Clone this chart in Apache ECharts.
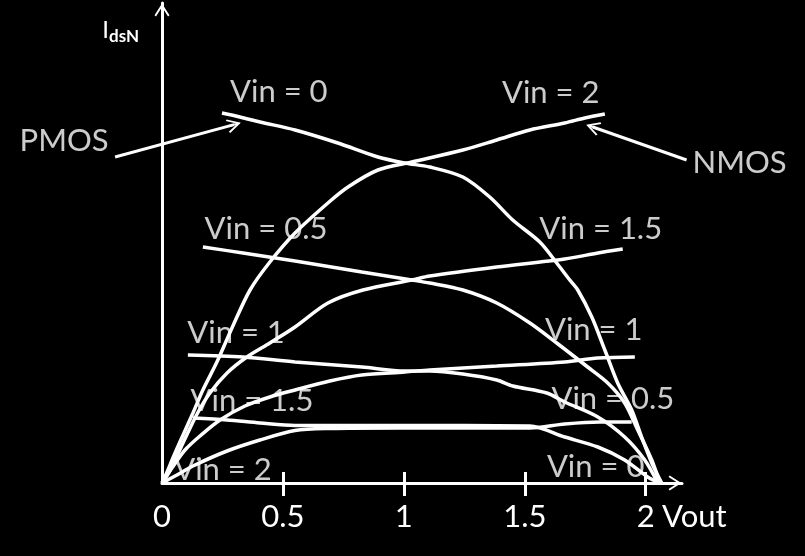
<!DOCTYPE html>
<html><head><meta charset="utf-8">
<script src="https://cdn.jsdelivr.net/npm/echarts@6/dist/echarts.min.js"></script>
<style>html,body{margin:0;padding:0;background:#000;}#c{width:805px;height:556px;}</style>
</head><body><div id="c"></div>
<script>
// ---- axis ticks ----
const xTickLabels = [0, 0.5, 1, 1.5, 2];
const xTicks = [0.5, 1, 1.5, 2];

// ---- NMOS curves [Vout, IdsN] ----
const nmosVin2 = [[0,0],[0.021,0.11],[0.045,0.25],[0.074,0.41],[0.128,0.70],[0.169,0.93],[0.227,1.21],[0.293,1.57],[0.364,1.93],[0.446,2.21],[0.550,2.50],[0.686,2.80],[0.769,2.96],[0.893,3.13],[1.033,3.21],[1.244,3.33],[1.384,3.43],[1.521,3.53],[1.665,3.60],[1.748,3.65],[1.831,3.69]];
const nmosVin15 = [[0,0],[0.025,0.09],[0.054,0.23],[0.087,0.40],[0.145,0.69],[0.198,0.90],[0.269,1.10],[0.351,1.26],[0.446,1.40],[0.550,1.56],[0.686,1.80],[0.831,1.93],[1.033,2.03],[1.107,2.07],[1.384,2.16],[1.665,2.24],[1.802,2.30],[1.905,2.34]];
const nmosVin1 = [[0,0],[0.041,0.15],[0.095,0.33],[0.157,0.47],[0.240,0.63],[0.343,0.77],[0.446,0.86],[0.550,0.93],[0.694,1.02],[0.826,1.08],[1.004,1.11],[1.107,1.13],[1.384,1.17],[1.665,1.21],[1.802,1.25],[1.955,1.26]];
const nmosVin05 = [[0,0],[0.054,0.07],[0.128,0.17],[0.269,0.32],[0.405,0.43],[0.550,0.525],[0.694,0.545],[0.983,0.55],[1.521,0.55],[1.665,0.59],[1.810,0.61],[1.942,0.61]];

// ---- PMOS curves [Vout, IdsN] ----
const pmosVin0 = [[0.248,3.70],[0.322,3.66],[0.405,3.61],[0.550,3.53],[0.727,3.40],[0.893,3.26],[1.004,3.20],[1.107,3.16],[1.244,3.06],[1.355,2.86],[1.450,2.63],[1.562,2.41],[1.632,2.20],[1.686,2.03],[1.719,1.93],[1.777,1.66],[1.831,1.33],[1.884,1.00],[1.942,0.73],[1.983,0.46],[2.025,0.20],[2.066,0]];
const pmosVin05 = [[0.169,2.36],[0.335,2.30],[0.550,2.22],[0.826,2.11],[1.033,2.03],[1.107,2.00],[1.244,1.93],[1.384,1.80],[1.521,1.60],[1.632,1.40],[1.760,1.16],[1.843,1.00],[1.913,0.80],[1.967,0.53],[2.025,0.23],[2.058,0]];
const pmosVin1 = [[0.107,1.28],[0.335,1.26],[0.550,1.21],[0.826,1.16],[1.004,1.12],[1.107,1.12],[1.244,1.09],[1.384,1.03],[1.450,0.97],[1.591,0.90],[1.665,0.81],[1.802,0.66],[1.913,0.46],[1.996,0.23],[2.050,0]];
const pmosVin15 = [[0.128,0.65],[0.269,0.63],[0.405,0.60],[0.550,0.575],[0.983,0.575],[1.521,0.57],[1.665,0.46],[1.802,0.36],[1.913,0.23],[2.008,0.06],[2.058,0]];

const curves = [
  {name:'NMOS Vin=2', data:nmosVin2},
  {name:'NMOS Vin=1.5', data:nmosVin15},
  {name:'NMOS Vin=1', data:nmosVin1},
  {name:'NMOS Vin=0.5', data:nmosVin05},
  {name:'PMOS Vin=0', data:pmosVin0},
  {name:'PMOS Vin=0.5', data:pmosVin05},
  {name:'PMOS Vin=1', data:pmosVin1},
  {name:'PMOS Vin=1.5', data:pmosVin15}
];

// ---- annotation texts (data coordinates) ----
const annotations = [
  {text:'Vin = 0',   at:[0.483,3.91]},
  {text:'Vin = 2',   at:[1.607,3.90]},
  {text:'PMOS',      at:[-0.405,3.42]},
  {text:'NMOS',      at:[2.388,3.20]},
  {text:'Vin = 0.5', at:[0.430,2.54]},
  {text:'Vin = 1.5', at:[1.814,2.54]},
  {text:'Vin = 1',   at:[0.306,1.50]},
  {text:'Vin = 1',   at:[1.785,1.53]},
  {text:'Vin = 1.5', at:[0.372,0.82]},
  {text:'Vin = 0.5', at:[1.864,0.84]},
  {text:'Vin = 2',   at:[0.252,0.13]},
  {text:'Vin = 0',   at:[1.793,0.16]}
];
const arrows = [
  {from:[-0.194,3.26], to:[0.298,3.584]},
  {from:[2.169,3.23], to:[1.781,3.56]}
];

const FONT = 'Lato';
const WHITE = '#ffffff';
const FS = 31;
const arrowPath = 'path://M7,0L14,11L12.6,12L7,3.2L1.4,12L0,11ZM6.1,1L7.9,1L7.9,12L6.1,12Z';

const chart = echarts.init(document.getElementById('c'), null, {renderer:'canvas'});
const series = curves.map(c => ({
  type:'line', name:c.name, data:c.data, showSymbol:false, smooth:0.3, clip:false,
  lineStyle:{color:WHITE, width:3.5}, silent:true, z:3
}));
series.push({
  type:'lines', coordinateSystem:'cartesian2d', clip:false, silent:true, z:4,
  data: arrows.map(a => ({coords:[a.from, a.to]})),
  symbol:['none', arrowPath], symbolSize:14,
  lineStyle:{color:WHITE, width:3, opacity:1, curveness:0}
});
series.push({
  type:'scatter', clip:false, silent:true, z:5, symbolSize:1,
  itemStyle:{color:'rgba(0,0,0,0)'},
  data: annotations.map(a => ({value:a.at, name:a.text})),
  label:{show:true, position:'inside', formatter:'{b}', color:WHITE, fontFamily:FONT, fontSize:FS}
});

chart.setOption({
  backgroundColor:'#000000',
  animation:false,
  grid:{left:162, right:123, top:3, bottom:73},
  xAxis:[{
    type:'value', min:0, max:2.15, position:'bottom',
    axisLine:{show:true, onZero:false, lineStyle:{color:WHITE, width:3}, symbol:['none', arrowPath], symbolSize:[15,14], symbolOffset:[0,-7]},
    axisTick:{show:true, customValues:xTicks, length:13, lineStyle:{color:WHITE, width:3}},
    axisLabel:{show:true, customValues:xTickLabels, color:WHITE, fontFamily:FONT, fontSize:FS, margin:18},
    splitLine:{show:false},
    name:'Vout', nameLocation:'end', nameGap:-20,
    nameTextStyle:{color:WHITE, fontFamily:FONT, fontSize:FS, verticalAlign:'top', padding:[18,0,0,0]}
  },{
    type:'value', min:0, max:2.15, position:'bottom',
    axisLine:{show:false},
    axisTick:{show:true, inside:true, customValues:xTicks, length:11, lineStyle:{color:WHITE, width:3}},
    axisLabel:{show:false}, splitLine:{show:false}
  }],
  yAxis:{
    type:'value', min:0, max:4.8,
    axisLine:{show:true, lineStyle:{color:WHITE, width:3}, symbol:['none', arrowPath], symbolSize:[15,14], symbolOffset:[0,-7]},
    axisTick:{show:false}, axisLabel:{show:false}, splitLine:{show:false},
    name:'{a|I}{b|dsN}', nameLocation:'end', nameGap:-14,
    nameTextStyle:{align:'right', verticalAlign:'top', padding:[0,23,0,0],
      rich:{
        a:{color:WHITE, fontFamily:FONT, fontSize:24, lineHeight:26},
        b:{color:WHITE, fontFamily:FONT, fontSize:17, fontWeight:'bold', lineHeight:17, padding:[14,0,0,0]}
      }}
  },
  series: series
});
</script></body></html>
